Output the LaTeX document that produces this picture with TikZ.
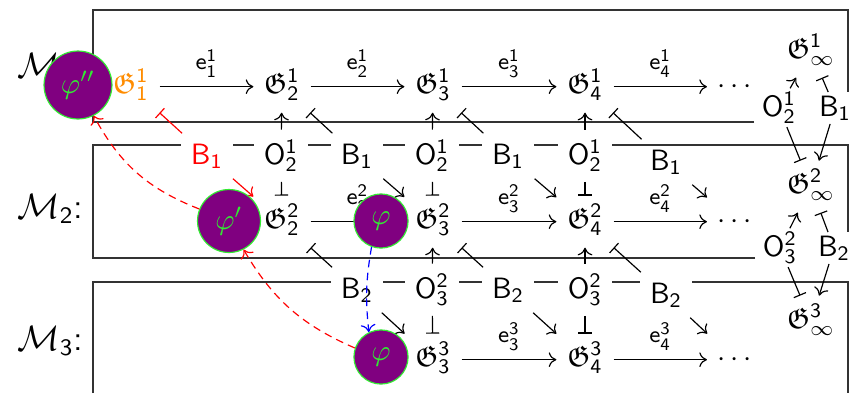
\documentclass[tikz,border=0pt]{standalone}
\usepackage{amssymb}
\usetikzlibrary{arrows.meta,backgrounds}
\definecolor{phipurple}{RGB}{128,0,128}
\definecolor{phigreen}{RGB}{50,235,50}
\definecolor{gorange}{RGB}{255,140,0}
\newcommand{\Gfr}[2]{\mathfrak{G}^{\mathsf{#1}}_{\mathsf{#2}}}
\newcommand{\Bsf}[1]{\mathsf{B}_{\mathsf{#1}}}
\newcommand{\Osf}[2]{\mathsf{O}^{\mathsf{#1}}_{\mathsf{#2}}}
\newcommand{\esf}[2]{\scriptstyle\mathsf{e}^{\mathsf{#1}}_{\mathsf{#2}}}
\begin{document}
\begin{tikzpicture}[x=0.34pt,y=0.34pt,
  >={To[length=2.6pt,width=5pt]},
  gnode/.style={anchor=base, inner sep=3.5pt, text height=7.3pt, text depth=3pt},
  bonode/.style={anchor=base, fill=white, inner xsep=3.5pt, inner ysep=1pt, outer ysep=2.5pt},
  rnode/.style={anchor=base, inner xsep=2.5pt, inner ysep=1pt},
  lab/.style={above, font=\large, inner sep=3pt},
  blk/.style={-{Bar[width=4.5pt]}},
  act/.style={->},
  phinode/.style={circle, fill=phipurple, draw=phigreen, text=phigreen, inner sep=0pt},
  mlabel/.style={anchor=base east, inner sep=0pt, font=\large},
  boxline/.style={draw=black!80, line width=0.45pt},
  reddash/.style={->, red, dash pattern=on 2.6pt off 1.8pt},
  bluedash/.style={->, blue, dash pattern=on 2.6pt off 1.8pt}]
\useasboundingbox (0,0) rectangle (855,-393);

% labels of the modules
\node[mlabel] (m1) at (84,-77) {$\mathcal{M}_{\mathsf{1}}$\textsf{:}};
\node[mlabel] (m2) at (84,-218) {$\mathcal{M}_{\mathsf{2}}$\textsf{:}};
\node[mlabel] (m3) at (84,-350) {$\mathcal{M}_{\mathsf{3}}$\textsf{:}};

% row 1
\node[gnode, text=gorange] (g11) at (131,-93) {$\Gfr11$};
\node[gnode] (g12) at (282,-93) {$\Gfr12$};
\node[gnode] (g13) at (433,-93) {$\Gfr13$};
\node[gnode] (g14) at (585,-93) {$\Gfr14$};
\node[gnode] (d1) at (735,-93) {$\cdots$};
\node[gnode] (ginf1) at (811,-58) {$\mathfrak{G}^{\mathsf{1}}_{\infty}$};

% row 2
\node[gnode] (g22) at (282,-228) {$\Gfr22$};
\node[gnode] (g23) at (433,-228) {$\Gfr23$};
\node[gnode] (g24) at (585,-228) {$\Gfr24$};
\node[gnode] (d2) at (735,-228) {$\cdots$};
\node[gnode] (ginf2) at (811,-193) {$\mathfrak{G}^{\mathsf{2}}_{\infty}$};

% row 3
\node[gnode] (g33) at (433,-366) {$\Gfr33$};
\node[gnode] (g34) at (585,-366) {$\Gfr34$};
\node[gnode] (d3) at (735,-366) {$\cdots$};
\node[gnode] (ginf3) at (811,-328) {$\mathfrak{G}^{\mathsf{3}}_{\infty}$};

% B/O row 1
\node[bonode, text=red] (bA) at (207,-164) {$\Bsf1$};
\node[bonode] (oA2) at (281,-164) {$\Osf12$};
\node[bonode] (bA3) at (357,-164) {$\Bsf1$};
\node[bonode] (oA4) at (432,-164) {$\Osf12$};
\node[bonode] (bA5) at (508,-164) {$\Bsf1$};
\node[bonode] (oA6) at (585,-164) {$\Osf12$};
\node[bonode] (bA7) at (666,-170) {$\Bsf1$};
\node[rnode] (oAr) at (779,-116) {$\Osf12$};
\node[rnode] (bAr) at (835,-116) {$\Bsf1$};

% B/O row 2
\node[bonode] (bB3) at (357,-298) {$\Bsf2$};
\node[bonode] (oB4) at (432,-298) {$\Osf23$};
\node[bonode] (bB5) at (508,-298) {$\Bsf2$};
\node[bonode] (oB6) at (585,-298) {$\Osf23$};
\node[bonode] (bB7) at (666,-303) {$\Bsf2$};
\node[rnode] (oBr) at (780,-256) {$\Osf23$};
\node[rnode] (bBr) at (834,-256) {$\Bsf2$};

% boxes
\coordinate (b1tl) at (93,-10);
\coordinate (b1tr) at (848,-10);
\coordinate (b1bl) at (93,-122);
\coordinate (b2tl) at (93,-145);
\coordinate (b2tr) at (848,-145);
\coordinate (b2bl) at (93,-258);
\coordinate (b3tl) at (93,-282);
\coordinate (b3tr) at (848,-282);
\coordinate (b3bl) at (93,-393);
\coordinate (b3br) at (848,-393);
\begin{scope}[on background layer]
\draw[boxline] (oAr.west |- b1bl) -- (b1bl) -- (b1tl) -- (b1tr) -- (b1tr |- bAr.north);
\draw[boxline] (oBr.west |- b2bl) -- (b2bl) -- (b2tl) -- (b2tr) -- (b2tr |- bBr.north);
\draw[boxline] (b3bl) -- (b3tl) -- (b3tr) -- (b3br);
\end{scope}

% horizontal arrows
\draw[act] (g11) -- node[lab] {$\esf11$} (g12);
\draw[act] (g12) -- node[lab] {$\esf12$} (g13);
\draw[act] (g13) -- node[lab] {$\esf13$} (g14);
\draw[act] (g14) -- node[lab] {$\esf14$} (d1);
\draw[act] (g22) -- node[lab] {$\esf22$} (g23);
\draw[act] (g23) -- node[lab] {$\esf23$} (g24);
\draw[act] (g24) -- node[lab] {$\esf24$} (d2);
\draw[act] (g33) -- node[lab] {$\esf33$} (g34);
\draw[act] (g34) -- node[lab] {$\esf34$} (d3);

% B/O row 1 connectors
\draw[blk, red] (bA) -- (g11);
\draw[act, red] (bA) -- (g22);
\draw[act] (oA2) -- (g12);
\draw[blk] (oA2) -- (g22);
\draw[blk] (bA3) -- (g12);
\draw[act] (bA3) -- (g23);
\draw[act] (oA4) -- (g13);
\draw[blk] (oA4) -- (g23);
\draw[blk] (bA5) -- (g13);
\draw[act] (bA5) -- (g24);
\draw[act] (oA6) -- (g14);
\draw[blk] (oA6) -- (g24);
\draw[blk] (bA7) -- (g14);
\draw[act] (bA7) -- (d2);
\draw[act] (oAr) -- (ginf1);
\draw[blk] (oAr) -- (ginf2);
\draw[blk] (bAr) -- (ginf1);
\draw[act] (bAr) -- (ginf2);

% B/O row 2 connectors
\draw[blk] (bB3) -- (g22);
\draw[act] (bB3) -- (g33);
\draw[act] (oB4) -- (g23);
\draw[blk] (oB4) -- (g33);
\draw[blk] (bB5) -- (g23);
\draw[act] (bB5) -- (g34);
\draw[act] (oB6) -- (g24);
\draw[blk] (oB6) -- (g34);
\draw[blk] (bB7) -- (g24);
\draw[act] (bB7) -- (d3);
\draw[act] (oBr) -- (ginf2);
\draw[blk] (oBr) -- (ginf3);
\draw[blk] (bBr) -- (ginf2);
\draw[act] (bBr) -- (ginf3);

% phi circles
\node[phinode, minimum size=23.1pt] (phiA) at (78,-85) {$\varphi''$};
\node[phinode, minimum size=21.4pt] (phiB) at (229,-221) {$\varphi'$};
\node[phinode, minimum size=18.4pt] (phiC) at (381,-221) {$\varphi$};
\node[phinode, minimum size=18.4pt] (phiD) at (381,-357) {$\varphi$};

% dashed arrows
\draw[reddash] (phiB.158) to[bend left=20] (phiA.297);
\draw[reddash] (phiD.161) to[bend left=18] (phiB.297);
\draw[bluedash] (phiC.250) to[bend right=8] (phiD.116);
\end{tikzpicture}
\end{document}
